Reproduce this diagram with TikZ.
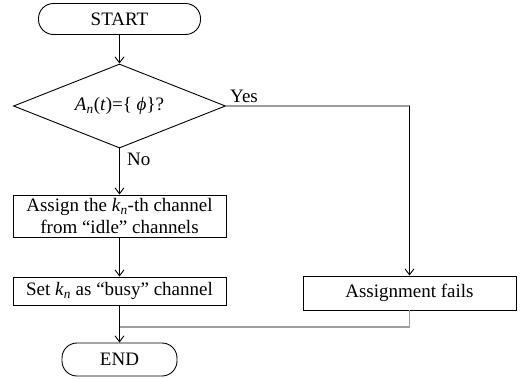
\documentclass[tikz,border=0pt]{standalone}
\usepackage{fontspec}
\setmainfont{Liberation Serif}
\usetikzlibrary{shapes.geometric,arrows.meta}
\tikzset{
  base/.style={draw, line width=0.9pt, inner sep=2pt, align=center, font=\fontsize{19}{22}\selectfont},
  term/.style={base, rectangle, rounded corners=15pt},
  proc/.style={base, rectangle},
  dec/.style={base, diamond, aspect=2.52, inner sep=0pt},
  arr/.style={line width=0.9pt, -{Straight Barb[length=6pt,width=9pt]}},
  grayline/.style={line width=1.1pt, draw=black!38},
  lbl/.style={font=\fontsize{19}{22}\selectfont, inner sep=0pt}
}
\begin{document}
\begin{tikzpicture}[x=1pt,y=-1pt]
\useasboundingbox (0,0) rectangle (522,378);
\node[term, minimum width=162pt, minimum height=31pt] (start) at (119.5,19) {START};
\node[dec, minimum width=212pt, minimum height=84pt] (cond) at (119.5,106)
  {\textit{A}\textsubscript{\textit{n}}(\textit{t})=\{ \textit{ϕ}\}?};
\node[proc, minimum width=213pt, minimum height=42pt] (assign) at (119.5,216)
  {Assign the \textit{k}\textsubscript{\textit{n}}-th channel\\from ``idle'' channels};
\node[proc, minimum width=213pt, minimum height=28pt] (setbusy) at (119.5,291)
  {Set \textit{k}\textsubscript{\textit{n}} as ``busy'' channel};
\node[proc, minimum width=213pt, minimum height=34pt] (fail) at (409.5,293) {Assignment fails};
\node[term, minimum width=115pt, minimum height=33pt] (end) at (119.5,359.5) {END};
\coordinate (corner) at (fail.north |- cond.east);
\coordinate (join) at (119.5,327);
\node[lbl, anchor=base west] (yes) at (230,102) {Yes};
\node[lbl, anchor=base west] (no) at (127,165) {No};
\draw[arr] (start) -- (cond);
\draw[arr] (cond) -- (assign);
\draw[arr] (assign) -- (setbusy);
\draw[arr] (setbusy) -- (end);
\draw[grayline] (cond.east) -- (corner);
\draw[arr] (corner) -- (fail.north);
\draw[grayline] (fail.south) -- (fail.south |- join) -- (join);
\end{tikzpicture}
\end{document}
